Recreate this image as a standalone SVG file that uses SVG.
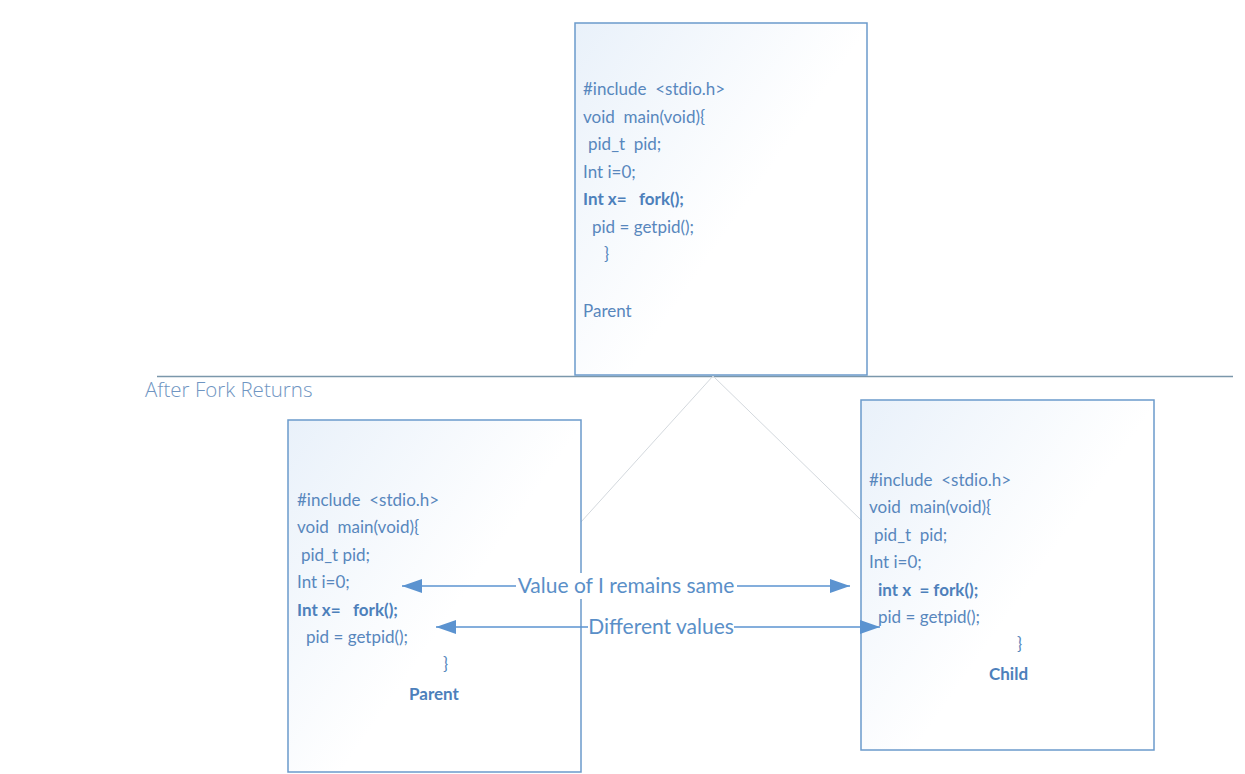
<svg xmlns="http://www.w3.org/2000/svg" width="1245" height="774" viewBox="0 0 1245 774">
<defs>
<linearGradient id="bg" x1="0" y1="0" x2="0.6" y2="0.5">
<stop offset="0" stop-color="#e9f1fa"/>
<stop offset="1" stop-color="#ffffff"/>
</linearGradient>
<marker id="ah" viewBox="0 0 20 14" refX="20" refY="7" markerWidth="20" markerHeight="14" markerUnits="userSpaceOnUse" orient="auto-start-reverse">
<path d="M0,0 L20,7 L0,14 Z" fill="#5b93d0"/>
</marker>
<style>
.box{fill:url(#bg);stroke:#6b9acb;stroke-width:1.5}
.code{font-family:Lato,"Open Sans",sans-serif;font-size:17px;fill:#5887bd;white-space:pre}
.b{font-weight:bold;fill:#4d80bb}
.lbl{font-family:Lato,"Open Sans",sans-serif;font-size:21px;fill:#5a8fc8}
.conn{stroke:#5b93d0;stroke-width:1.5;fill:none}
.fork{stroke:#d3d8dd;stroke-width:1;fill:none}
</style>
</defs>
<rect width="1245" height="774" fill="#ffffff"/>
<g id="divider">
<line x1="157" y1="376.5" x2="1233" y2="376.5" stroke="#7b97ab" stroke-width="1.5"/>
<text x="145" y="397" font-family="'Open Sans',Lato,sans-serif" font-size="20.5" fill="#6f95c2" font-weight="300">After Fork Returns</text>
</g>
<g id="fork-lines">
<line class="fork" x1="713" y1="376" x2="581" y2="522"/>
<line class="fork" x1="713" y1="376" x2="861" y2="520"/>
</g>
<g id="node-top">
<rect class="box" x="575" y="23" width="292" height="352"/>
<text class="code" x="583" y="95" xml:space="preserve">#include  &lt;stdio.h&gt;</text>
<text class="code" x="583" y="123" xml:space="preserve">void  main(void){</text>
<text class="code" x="588" y="150" xml:space="preserve">pid_t  pid;</text>
<text class="code" x="583" y="178">Int i=0;</text>
<text class="code b" x="583" y="205" xml:space="preserve">Int x=   fork();</text>
<text class="code" x="592" y="233">pid = getpid();</text>
<text class="code" x="604" y="260">}</text>
<text class="code" x="583" y="317">Parent</text>
</g>
<g id="node-left">
<rect class="box" x="288" y="420" width="293" height="352"/>
<text class="code" x="297" y="506" xml:space="preserve">#include  &lt;stdio.h&gt;</text>
<text class="code" x="297" y="533" xml:space="preserve">void  main(void){</text>
<text class="code" x="301" y="561">pid_t pid;</text>
<text class="code" x="297" y="588">Int i=0;</text>
<text class="code b" x="297" y="616" xml:space="preserve">Int x=   fork();</text>
<text class="code" x="306" y="643">pid = getpid();</text>
<text class="code" x="443" y="670">}</text>
<text class="code b" x="409" y="700">Parent</text>
</g>
<g id="node-right">
<rect class="box" x="861" y="400" width="293" height="350"/>
<text class="code" x="869" y="486" xml:space="preserve">#include  &lt;stdio.h&gt;</text>
<text class="code" x="869" y="513" xml:space="preserve">void  main(void){</text>
<text class="code" x="874" y="541" xml:space="preserve">pid_t  pid;</text>
<text class="code" x="869" y="568">Int i=0;</text>
<text class="code b" x="878" y="596" xml:space="preserve">int x  = fork();</text>
<text class="code" x="878" y="623">pid = getpid();</text>
<text class="code" x="1017" y="650">}</text>
<text class="code b" x="989" y="680">Child</text>
</g>
<g id="connectors">
<line class="conn" x1="402" y1="586" x2="850" y2="586" marker-start="url(#ah)" marker-end="url(#ah)"/>
<rect x="516" y="573" width="221" height="26" fill="#ffffff"/>
<text class="lbl" x="626" y="593" text-anchor="middle">Value of I remains same</text>
<line class="conn" x1="436" y1="627" x2="880" y2="627" marker-start="url(#ah)" marker-end="url(#ah)"/>
<rect x="588" y="614" width="146" height="26" fill="#ffffff"/>
<text class="lbl" x="661" y="634" text-anchor="middle">Different values</text>
</g>
</svg>
